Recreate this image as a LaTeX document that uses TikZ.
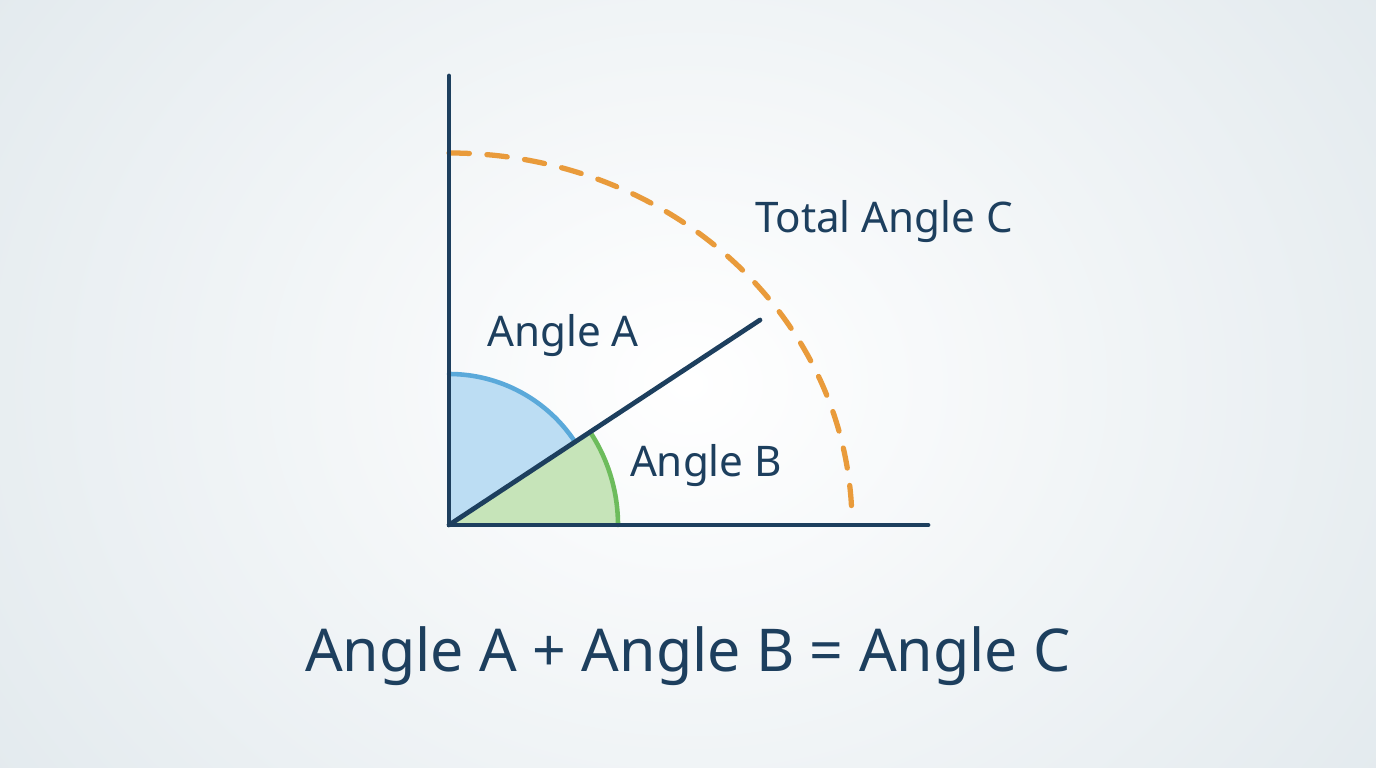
\documentclass[tikz,border=0pt]{standalone}
\usepackage{fontspec}
\setmainfont{Noto Sans}
\usepackage{xcolor}
\usetikzlibrary{calc}
\usetikzlibrary{positioning}

\definecolor{navy}{HTML}{1D3F5E}
\definecolor{skyfill}{HTML}{BCDDF3}
\definecolor{skyline}{HTML}{5AA9DA}
\definecolor{leaffill}{HTML}{C6E4B9}
\definecolor{leafline}{HTML}{6DBC5C}
\definecolor{amber}{HTML}{E99B3B}
\definecolor{paper}{HTML}{E3EAEE}

\begin{document}
\begin{tikzpicture}[line cap=round, semithick]
	\tikzstyle{axisline}=[draw=navy, line width=1.35pt]
	\tikzstyle{anglelabel}=[text=navy, font=\fontsize{12}{14}\selectfont]
	% background
	\useasboundingbox (0,0) rectangle (13.76,7.68);
	\shade[inner color=white, outer color=paper] (-1.5,-3.2) rectangle (15.26,10.88);
	\coordinate (O) at (4.49,2.43);
	\coordinate (Ytop) at (4.49,6.92);
	\coordinate (Xend) at (9.28,2.43);
	\coordinate (Rend) at (7.60,4.48);

	% sectors
	\fill[leaffill] (O) -- ++(0:1.69) arc (0:33.4:1.69) -- cycle;
	\draw[leafline, line width=1.3pt] ($(O)+(0:1.69)$) arc (0:33.4:1.69);
	\fill[skyfill] (O) -- ++(33.4:1.51) arc (33.4:90:1.51) -- cycle;
	\draw[skyline, line width=1.3pt] ($(O)+(33.4:1.51)$) arc (33.4:90:1.51);

	% total angle
	\draw[amber, line width=1.5pt, dash pattern=on 5.8pt off 5pt] ($(O)+(0,3.72)$) arc[start angle=90, end angle=3, x radius=4.03, y radius=3.72];

	% axes and ray
	\draw[axisline] (Ytop) -- (O) -- (Xend);
	\draw[axisline] (O) -- (Rend);

	\node[anglelabel] (labA) at (5.63,4.32) {Angle A};
	\node[anglelabel] (labB) at (7.06,3.02) {Angle B};
	\node[anglelabel] (labC) at (8.84,5.46) {Total Angle C};
	\node[text=navy, font=\fontsize{16.8}{20}\selectfont] (sum) at (6.88,1.12) {Angle A + Angle B = Angle C};
\end{tikzpicture}
\end{document}
